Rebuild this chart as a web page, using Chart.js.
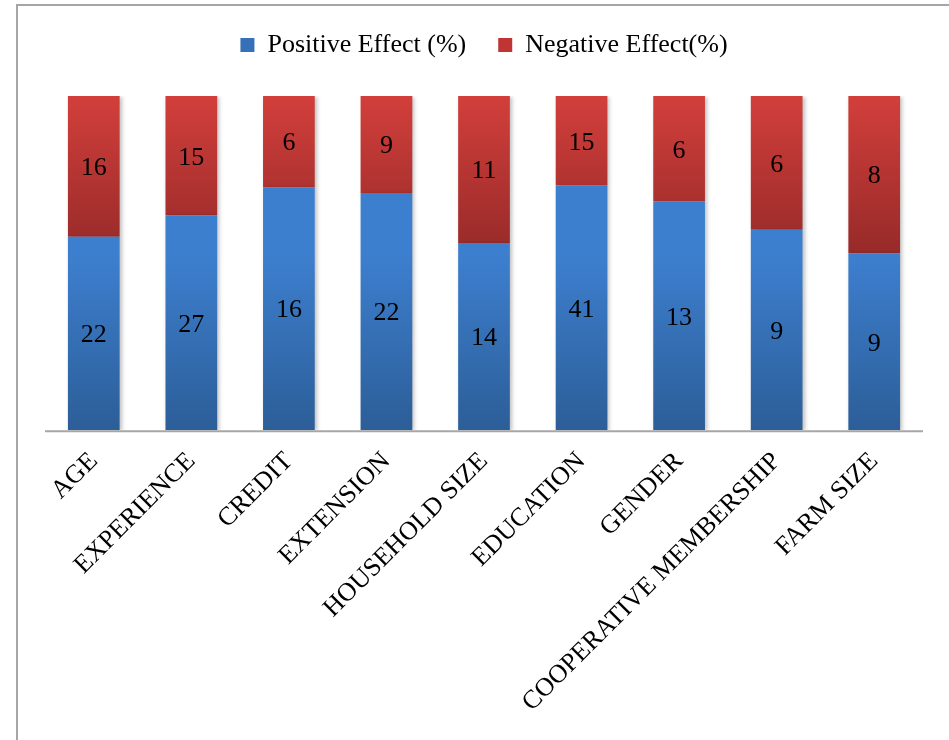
<!DOCTYPE html>
<html>
<head>
<meta charset="utf-8">
<script src="https://cdn.jsdelivr.net/npm/chart.js@4/dist/chart.umd.min.js"></script>
<style>
  html, body { margin: 0; padding: 0; background: #fff; }
  #wrap { position: relative; width: 949px; height: 740px; }
  #frame { position: absolute; left: 16px; top: 4px; right: 0; bottom: 0; border-left: 2px solid #a6a6a6; border-top: 2px solid #a6a6a6; }
  #c { position: absolute; left: 0; top: 0; }
</style>
</head>
<body>
<div id="wrap">
  <div id="frame"></div>
  <canvas id="c" width="949" height="740"></canvas>
</div>
<script>
const categories = ['AGE', 'EXPERIENCE', 'CREDIT', 'EXTENSION', 'HOUSEHOLD SIZE', 'EDUCATION', 'GENDER', 'COOPERATIVE MEMBERSHIP', 'FARM SIZE'];
const positive = [22, 27, 16, 22, 14, 41, 13, 9, 9];
const negative = [16, 15, 6, 9, 11, 15, 6, 6, 8];

// bars are drawn as shares of 100, labels show the raw counts
const share = (a, b) => a.map((v, i) => v / (v + b[i]) * 100);

const fontFamily = '"Liberation Serif", "Times New Roman", serif';

const gradients = {
  0: ['#3d7fcf', '#2c5e98'],
  1: ['#d23f3b', '#972a29']
};

// extra room between the legend and the bars
const legendGap = {
  id: 'legendGap',
  beforeInit(chart) {
    const fit = chart.legend.fit;
    chart.legend.fit = function () {
      fit.call(this);
      this.height += 28;
    };
  }
};

const segmentStyle = {
  id: 'segmentStyle',
  beforeDatasetDraw(chart, args) {
    const ctx = chart.ctx;
    const cols = gradients[args.index];
    args.meta.data.forEach(el => {
      const g = ctx.createLinearGradient(0, el.y, 0, el.base);
      g.addColorStop(0, cols[0]);
      g.addColorStop(1, cols[1]);
      el.options.backgroundColor = g;
    });
    ctx.save();
    ctx.shadowColor = 'rgba(0,0,0,0.25)';
    ctx.shadowBlur = 4;
    ctx.shadowOffsetX = 2;
    ctx.shadowOffsetY = 1;
  },
  afterDatasetDraw(chart) {
    chart.ctx.restore();
  },
  afterDatasetsDraw(chart) {
    const ctx = chart.ctx;
    ctx.save();
    ctx.font = '26px ' + fontFamily;
    ctx.fillStyle = '#000';
    ctx.textAlign = 'center';
    ctx.textBaseline = 'middle';
    chart.data.datasets.forEach((ds, di) => {
      chart.getDatasetMeta(di).data.forEach((el, i) => {
        ctx.fillText(String(ds.counts[i]), el.x, (el.y + el.base) / 2 + 2);
      });
    });
    // baseline
    const a = chart.chartArea;
    ctx.strokeStyle = '#a6a6a6';
    ctx.lineWidth = 2;
    ctx.beginPath();
    ctx.moveTo(a.left, a.bottom + 1);
    ctx.lineTo(a.right, a.bottom + 1);
    ctx.stroke();
    ctx.restore();
  }
};

new Chart(document.getElementById('c'), {
  type: 'bar',
  data: {
    labels: categories,
    datasets: [
      { label: 'Positive Effect (%)', data: share(positive, negative), counts: positive, backgroundColor: '#3670b8', borderWidth: 0 },
      { label: 'Negative Effect(%)', data: share(negative, positive), counts: negative, backgroundColor: '#c03533', borderWidth: 0 }
    ]
  },
  options: {
    responsive: false,
    animation: false,
    layout: { padding: { left: 45, right: 26, top: 0, bottom: 14 } },
    datasets: { bar: { categoryPercentage: 1, barPercentage: 0.53 } },
    plugins: {
      legend: {
        position: 'top',
        labels: {
          font: { family: fontFamily, size: 26 },
          color: '#000',
          boxWidth: 14,
          boxHeight: 14,
          padding: 32
        }
      },
      tooltip: { enabled: false }
    },
    scales: {
      x: {
        stacked: true,
        grid: { display: false },
        border: { display: false },
        ticks: {
          minRotation: 45,
          maxRotation: 45,
          color: '#000',
          font: { family: fontFamily, size: 26 },
          padding: 8
        }
      },
      y: {
        stacked: true,
        display: false,
        min: 0,
        max: 100
      }
    }
  },
  plugins: [legendGap, segmentStyle]
});
</script>
</body>
</html>
